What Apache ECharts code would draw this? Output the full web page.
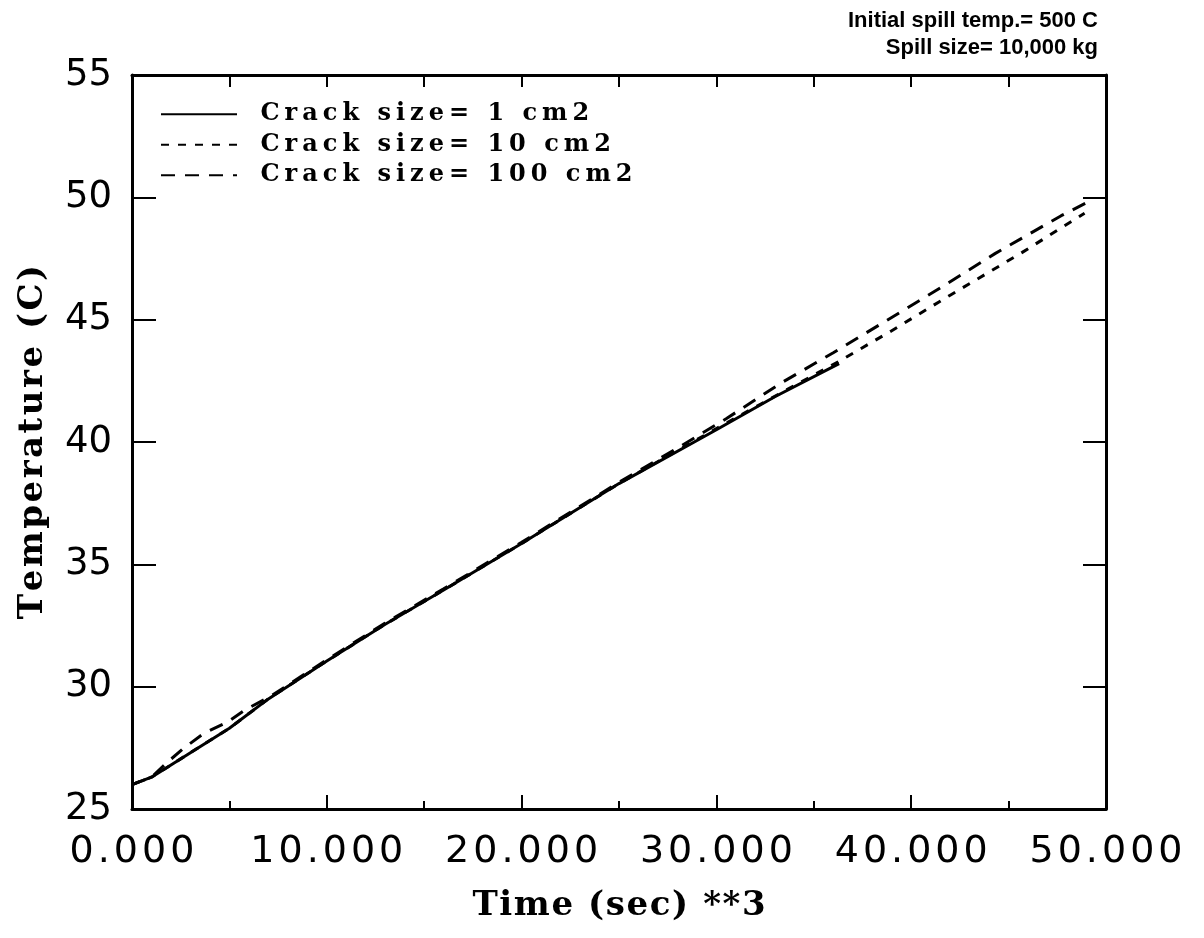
<!DOCTYPE html>
<html>
<head>
<meta charset="utf-8">
<script src="https://cdn.jsdelivr.net/npm/echarts@6/dist/echarts.min.js"></script>
<style>
html,body{margin:0;padding:0;background:#fff;}
#chart{width:1204px;height:938px;}
</style>
</head>
<body>
<div id="chart"></div>
<script>
// ---- data ----
const seriesNames = ['Crack size= 1 cm2', 'Crack size= 10 cm2', 'Crack size= 100 cm2'];

const time1 = [0, 1, 2, 3, 5, 7, 10, 13, 16, 20, 25, 30, 33, 36.3];
const temp1 = [26.0, 26.3, 26.8, 27.3, 28.3, 29.5, 31.05, 32.55, 33.95, 35.85, 38.3, 40.5, 41.85, 43.2];

const time10 = [0, 1, 2, 3, 5, 7, 10, 13, 16, 20, 25, 30, 33.3, 36.3, 39, 42, 45.7, 48.9];
const temp10 = [26.0, 26.3, 26.8, 27.3, 28.3, 29.5, 31.05, 32.55, 33.95, 35.85, 38.3, 40.55, 42.0, 43.3, 44.55, 46.0, 47.75, 49.35];

const time100 = [0, 1, 1.8, 2.6, 3.7, 4.9, 5.8, 7.1, 10, 13, 16, 20, 25, 28, 30.5, 33.3, 36, 38.5, 41.5, 44.3, 47.7, 49.3];
const temp100 = [26.0, 26.3, 26.9, 27.45, 28.1, 28.55, 29.05, 29.6, 31.1, 32.6, 34.0, 35.9, 38.35, 39.75, 40.95, 42.4, 43.65, 44.85, 46.3, 47.7, 49.25, 49.9];

const xTickLabels = ['0.000', '10.000', '20.000', '30.000', '40.000', '50.000'];
const yTickLabels = ['25', '30', '35', '40', '45', '50', '55'];

const noteLine1 = 'Initial spill temp.= 500 C';
const noteLine2 = 'Spill size= 10,000 kg';
const xTitle = 'Time (sec) **3';
const yTitle = 'Temperature (C)';

// ---- helpers: letter-spaced rich text ----
const black = '#000';
const measureCtx = document.createElement('canvas').getContext('2d');
function makeSpacer(prefix, family, weight, size, extra) {
  const rich = {};
  const fn = function (str) {
    return String(str).split('').map(ch => {
      const key = prefix + ch.charCodeAt(0);
      if (!rich[key]) {
        measureCtx.font = weight + ' ' + size + 'px "' + family + '"';
        const w = measureCtx.measureText(ch).width;
        rich[key] = {width: w + extra, align: 'center', fontFamily: family, fontWeight: weight, fontSize: size, color: black};
      }
      return '{' + key + '|' + ch + '}';
    }).join('');
  };
  fn.rich = rich;
  fn.prime = function (list) { list.forEach(s => fn(s)); return rich; };
  return fn;
}
const legendSp = makeSpacer('lg', 'DejaVu Serif', 'bold', 24, 5);
const xLabSp = makeSpacer('xl', 'DejaVu Sans', 'normal', 38, 4);
const yLabSp = makeSpacer('yl', 'DejaVu Sans', 'normal', 37, 0);
const xNameSp = makeSpacer('xn', 'DejaVu Serif', 'bold', 34, 1.6);
const yNameSp = makeSpacer('yn', 'DejaVu Serif', 'bold', 34, 2.5);
legendSp.prime(seriesNames);
xLabSp.prime(xTickLabels);
yLabSp.prime(yTickLabels);

function pairs(xs, ys) { return xs.map((x, i) => [x, ys[i]]); }

// ---- chart ----
const chart = echarts.init(document.getElementById('chart'), null, {renderer: 'canvas'});

const xNameText = xNameSp(xTitle);
const yNameText = yNameSp(yTitle);

const option = {
  backgroundColor: '#fff',
  animation: false,
  title: [
    {text: noteLine1, right: 101, top: 5,
     textStyle: {fontFamily: 'Liberation Sans', fontWeight: 'bold', fontSize: 22, color: black}},
    {text: noteLine2, right: 101, top: 32,
     textStyle: {fontFamily: 'Liberation Sans', fontWeight: 'bold', fontSize: 22, color: black}}
  ],
  legend: {
    data: seriesNames,
    orient: 'vertical',
    left: 155,
    top: 94,
    itemWidth: 76,
    itemHeight: 14,
    itemGap: 0,
    selectedMode: false,
    itemStyle: {opacity: 0, color: 'rgba(0,0,0,0)', borderWidth: 0},
    formatter: name => legendSp(name),
    textStyle: {
      color: black,
      lineHeight: 30.5,
      padding: [0, 0, 0, 16],
      rich: legendSp.rich
    }
  },
  grid: {left: 132, right: 98, top: 75, bottom: 129, containLabel: false},
  xAxis: [
    {
      type: 'value', position: 'bottom', min: 0, max: 50, interval: 10,
      name: xNameText, nameLocation: 'middle', nameGap: 80,
      nameTextStyle: {rich: xNameSp.rich},
      axisLine: {show: true, onZero: false, lineStyle: {color: black, width: 3}},
      axisTick: {show: true, inside: true, length: 14, lineStyle: {color: black, width: 2}},
      minorTick: {show: true, splitNumber: 2, length: 8, lineStyle: {color: black, width: 2}},
      splitLine: {show: false},
      axisLabel: {
        margin: 24,
        formatter: v => xLabSp(xTickLabels[Math.round(v / 10)]),
        rich: xLabSp.rich
      }
    },
    {
      type: 'value', position: 'top', min: 0, max: 50, interval: 5,
      axisLine: {show: true, onZero: false, lineStyle: {color: black, width: 3}},
      axisTick: {show: true, inside: true, length: 12, lineStyle: {color: black, width: 2}},
      splitLine: {show: false},
      axisLabel: {show: false}
    }
  ],
  yAxis: [
    {
      type: 'value', position: 'left', min: 25, max: 55, interval: 5,
      name: yNameText, nameLocation: 'middle', nameGap: 82, nameRotate: 90,
      nameTextStyle: {rich: yNameSp.rich},
      axisLine: {show: true, onZero: false, lineStyle: {color: black, width: 3}},
      axisTick: {show: true, inside: true, length: 24, lineStyle: {color: black, width: 2}},
      splitLine: {show: false},
      axisLabel: {
        margin: 20,
        formatter: v => yLabSp(yTickLabels[Math.round((v - 25) / 5)]),
        rich: yLabSp.rich
      }
    },
    {
      type: 'value', position: 'right', min: 25, max: 55, interval: 5,
      axisLine: {show: true, onZero: false, lineStyle: {color: black, width: 3}},
      axisTick: {show: true, inside: true, length: 23, lineStyle: {color: black, width: 2}},
      splitLine: {show: false},
      axisLabel: {show: false}
    }
  ],
  series: [
    {
      name: seriesNames[0], type: 'line', xAxisIndex: 0, yAxisIndex: 0,
      data: pairs(time1, temp1), symbol: 'none', smooth: false,
      lineStyle: {color: black, width: 3, type: 'solid'}, itemStyle: {color: black}
    },
    {
      name: seriesNames[1], type: 'line', xAxisIndex: 0, yAxisIndex: 0,
      data: pairs(time10, temp10), symbol: 'none', smooth: false,
      lineStyle: {color: black, width: 3, type: [8, 9]}, itemStyle: {color: black}
    },
    {
      name: seriesNames[2], type: 'line', xAxisIndex: 0, yAxisIndex: 0,
      data: pairs(time100, temp100), symbol: 'none', smooth: false,
      lineStyle: {color: black, width: 3, type: [14, 10]}, itemStyle: {color: black}
    }
  ]
};
chart.setOption(option);
</script>
</body>
</html>
